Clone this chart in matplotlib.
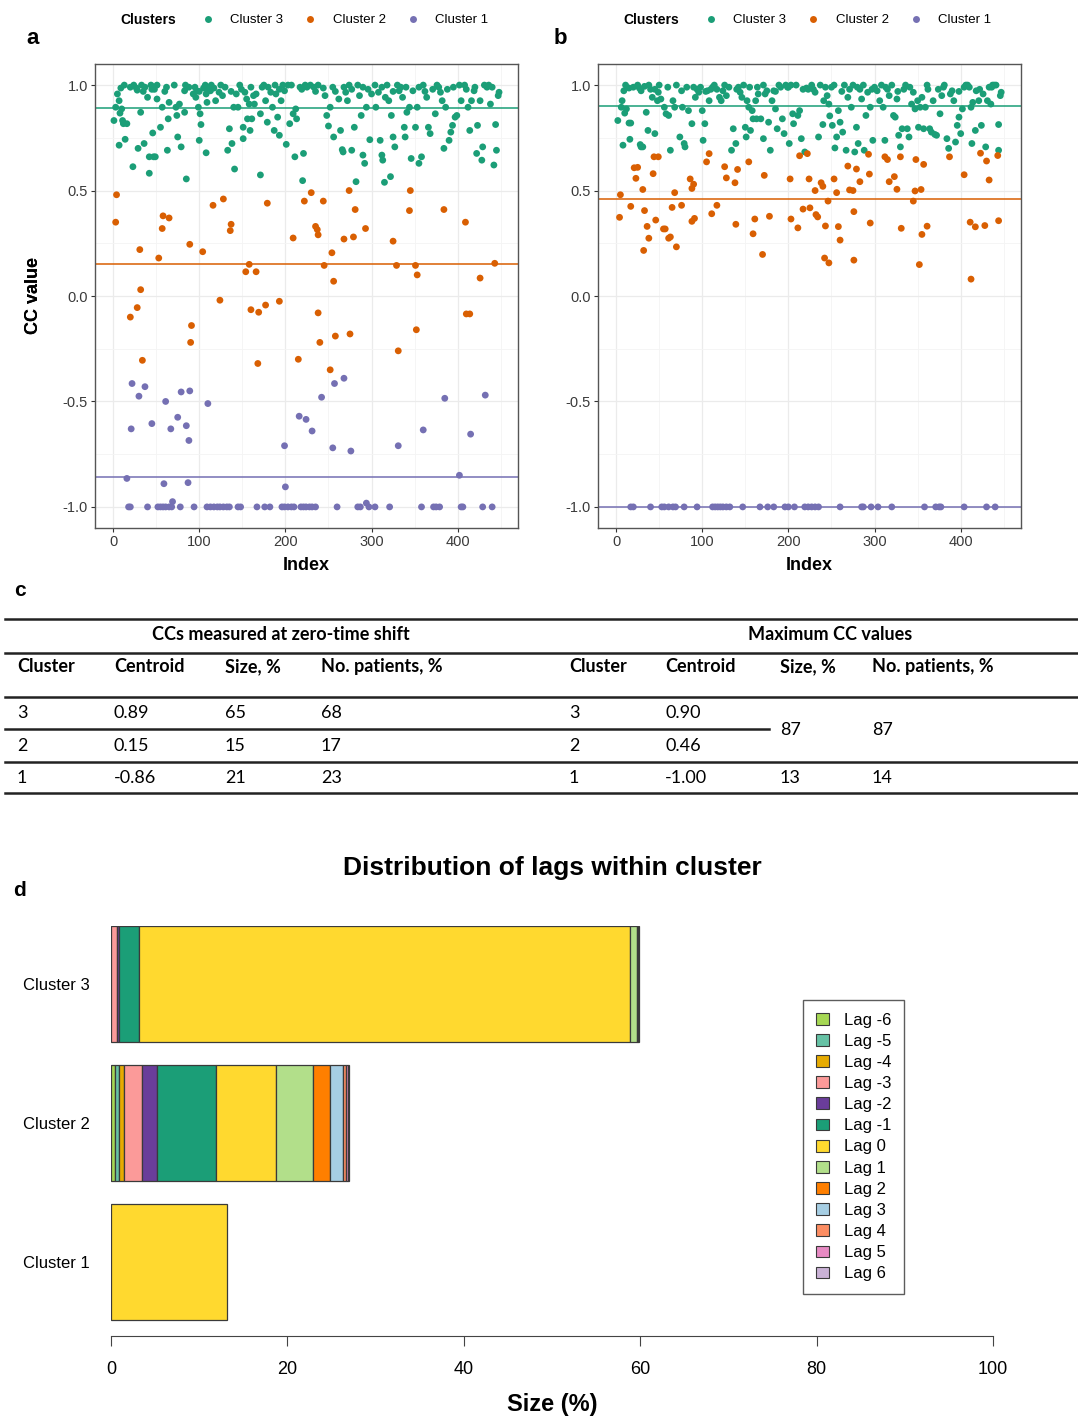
import matplotlib
matplotlib.use("Agg")
import matplotlib.pyplot as plt
import numpy as np
from matplotlib.lines import Line2D
from matplotlib.patches import Patch

plt.rcParams['font.family'] = ['Liberation Sans', 'DejaVu Sans']
plt.rcParams['axes.unicode_minus'] = False

# --- panel a: CCs at zero-time shift ---
a_c3_idx = [1, 7, 11, 12, 14, 7, 5, 9, 13, 3, 8, 10, 12, 16, 23, 24, 27, 28, 29, 33, 32, 35, 36, 37, 40, 42, 42, 44, 47, 49, 48, 51, 51, 46,
            55, 57, 60, 63, 64, 65, 71, 73, 74, 75, 77, 79, 83, 84, 85, 83, 93, 95, 96, 97, 99, 100, 101, 102, 105, 107, 108, 108, 109, 110, 113, 114, 117,
            119, 123, 125, 127, 133, 135, 138, 140, 141, 143, 145, 147, 149, 151, 151, 153, 155, 156, 158, 159, 161, 163, 164, 166, 171, 171, 173,
            175, 177, 179, 183, 185, 187, 188, 189, 191, 193, 195, 197, 199, 201, 203, 205, 207, 209, 211, 212, 213, 217, 219, 220, 221, 223, 229, 233,
            238, 244, 246, 248, 250, 252, 256, 258, 262, 264, 266, 267, 268, 270, 272, 274, 277, 280, 282, 284, 286, 288, 290, 292, 294, 296, 298, 300, 304, 305, 308, 310, 312, 313, 315, 316,
            318, 320, 322, 323, 325, 327, 330, 332, 334, 336, 338, 339, 341, 344, 346, 348, 351, 353, 355, 358, 360, 364, 366, 368, 371, 374, 376, 380, 382, 384, 386,
            388, 390, 392, 394, 397, 399, 402, 404, 408, 412, 414, 416, 419, 422, 423, 426, 428, 429, 431, 434, 436, 438, 442, 444, 445, 447, 448,
            20, 45, 62, 88, 100, 130, 137, 160, 180, 193, 225, 235, 255, 277, 290, 312, 325, 340, 355, 362, 378, 395, 410, 420, 440]
a_c3_cc = [0.832, 0.715, 0.832, 0.821, 0.743, 0.926, 0.958, 0.986, 1.0, 0.895, 0.867, 0.887, 0.817, 0.817, 0.613, 1.0, 0.986, 0.976, 0.70, 1.0, 0.871, 0.97, 0.723, 0.99, 0.942, 0.582, 0.66, 1.0, 0.66, 0.66, 0.98, 1.0, 0.934, 0.773,
           0.80, 0.895, 0.97, 0.691, 0.84, 0.918, 1.0, 0.895, 0.856, 0.754, 0.91, 0.707, 0.973, 1.0, 0.555, 0.871, 0.958, 0.99, 0.942, 0.973, 0.895, 0.738, 0.864, 0.813, 0.986, 1.0, 0.958, 0.679, 0.918, 0.98, 0.973, 1.0, 0.986,
           0.926, 0.966, 1.0, 0.95, 0.691, 0.793, 0.723, 0.895, 0.602, 0.958, 0.895, 1.0, 0.98, 0.80, 0.746, 0.966, 0.934, 0.84, 0.91, 0.785, 0.84, 0.95, 0.91, 0.958, 0.574, 0.864, 0.99,
           1.0, 0.926, 0.824, 0.966, 0.895, 0.785, 1.0, 0.958, 0.848, 0.762, 0.926, 1.0, 0.973, 0.719, 1.0, 0.817, 1.0, 0.864, 0.66, 0.887, 0.84, 0.99, 0.98, 0.547, 0.676, 1.0, 1.0, 0.99,
           1.0, 0.986, 0.95, 0.856, 0.806, 0.895, 0.754, 0.97, 0.934, 0.785, 0.694, 0.683, 0.99, 0.966, 0.926, 1.0, 0.691, 0.80, 0.542, 1.0, 0.95, 0.856, 0.668, 0.629, 0.895, 0.98, 0.741, 0.958, 1.0, 0.895, 0.966, 0.738, 0.668, 0.644, 0.539, 0.942,
           1.0, 0.926, 0.566, 0.856, 0.754, 0.707, 1.0, 0.973, 0.99, 0.942, 0.80, 0.754, 0.871, 0.895, 0.652, 0.973, 0.80, 0.895, 0.629, 0.66, 1.0, 0.942, 0.80, 0.77, 0.98, 0.864, 1.0, 0.966, 0.926, 0.70, 0.895,
           0.98, 0.738, 0.777, 0.809, 0.848, 0.856, 1.0, 0.926, 1.0, 0.895, 0.785, 0.926, 0.973, 0.676, 0.809, 0.926, 0.644, 0.707, 1.0, 0.99, 1.0, 0.91, 0.621, 0.813, 0.691, 0.95, 0.966,
           0.99, 0.98, 0.99, 0.99, 0.97, 0.99, 0.97, 0.99, 0.99, 0.98, 0.99, 0.97, 0.99, 0.98, 0.99, 0.99, 0.97, 0.99, 0.99, 0.97, 0.99, 0.99, 0.98, 0.99, 0.99]

a_c2_idx = [4, 3, 31, 53, 32, 57, 58, 65, 89, 104, 116, 128, 137, 136, 179, 158, 154, 166, 209, 222, 230, 244, 235, 237, 238, 245, 254, 256, 268, 279,
            274, 281, 293, 325, 329, 345, 344, 351, 353, 384, 409, 426, 443,
            20, 28, 34, 91, 90, 124, 160, 169, 177, 168, 193, 215, 238, 240, 252, 258, 275, 331, 352, 410, 414]
a_c2_cc = [0.48, 0.35, 0.22, 0.18, 0.03, 0.32, 0.38, 0.37, 0.245, 0.21, 0.43, 0.46, 0.34, 0.31, 0.44, 0.15, 0.115, 0.115, 0.275, 0.45, 0.49, 0.45, 0.33, 0.315, 0.29, 0.145, 0.205, 0.07, 0.27, 0.28,
           0.5, 0.41, 0.32, 0.26, 0.145, 0.5, 0.405, 0.145, 0.1, 0.41, 0.35, 0.085, 0.155,
           -0.10, -0.055, -0.305, -0.14, -0.22, -0.02, -0.065, -0.077, -0.043, -0.32, -0.025, -0.30, -0.08, -0.22, -0.35, -0.19, -0.18, -0.26, -0.16, -0.085, -0.085]

a_c1_idx = [22, 21, 30, 37, 45, 16, 59, 61, 67, 69, 75, 79, 85, 89, 88, 87, 110, 199, 200, 216, 224, 231, 242, 257, 268, 255, 276, 331, 360, 385, 402, 415, 432, 294]
a_c1_cc = [-0.415, -0.63, -0.475, -0.43, -0.605, -0.865, -0.89, -0.5, -0.63, -0.975, -0.575, -0.455, -0.615, -0.45, -0.685, -0.885, -0.51, -0.71, -0.905, -0.57,
           -0.585, -0.64, -0.48, -0.415, -0.39, -0.72, -0.735, -0.71, -0.635, -0.485, -0.85, -0.655, -0.47, -0.982]
# cluster 1 points sitting exactly on -1.0
a_c1_floor_idx = [18, 20, 40, 52, 55, 58, 61, 65, 68, 78, 94, 109, 113, 117, 121, 124, 128, 132, 135, 145, 148, 167, 176, 182, 196, 199, 203, 207, 210, 218,
                  221, 224, 228, 231, 235, 260, 284, 287, 297, 304, 321, 358, 372, 375, 379, 404, 406, 429, 440]
a_centroids = {3: 0.89, 2: 0.15, 1: -0.86}

# --- panel b: maximum CC values ---
b_c3_idx = [2, 8, 7, 9, 11, 6, 10, 12, 15, 17, 15, 16, 25, 27, 29, 29, 28, 31, 33, 35, 37, 38, 40, 42, 45, 48, 49, 50, 52, 56, 58, 61, 63, 66, 68, 70, 74, 76, 77, 79, 80, 82, 84, 88,
            92, 94, 96, 98, 100, 101, 103, 106, 108, 110, 112, 114, 117, 120, 122, 124, 126, 128,
            134, 136, 139, 142, 144, 146, 148, 150, 151, 152, 154, 155, 156, 158, 159, 162, 163, 165, 168, 171,
            171, 173, 175, 177, 179, 181, 183, 185, 187, 189, 191, 193, 195, 197, 199, 201, 203, 205, 206, 209, 211, 213, 215, 217, 219, 221, 223,
            227, 231, 235, 237, 240, 241, 243, 245, 247, 248, 251, 253, 254, 256, 258, 260, 263, 265, 267, 269, 271, 273, 275, 277, 279, 281, 283, 285, 287, 288, 290, 292,
            295, 298, 300, 303, 306, 308, 310, 312, 315, 317, 320, 322, 324, 326, 328, 330, 332, 334, 336, 338, 340, 343, 345, 347, 350, 351, 353, 355, 357, 359,
            361, 364, 366, 368, 370, 372, 374, 376, 378, 381, 384, 386, 388, 390, 392, 394, 396, 398, 400, 402, 404, 406, 408, 412, 413, 414, 417, 418, 421, 424,
            426, 429, 431, 433, 435, 437, 439, 441, 444, 444, 446, 447,
            20, 45, 60, 90, 104, 131, 140, 164, 185, 200, 229, 250, 262, 280, 297, 313, 327, 341, 362, 380, 398, 410, 422, 436]
b_c3_cc = [0.832, 0.715, 0.926, 0.973, 1.0, 0.895, 0.867, 0.887, 0.82, 0.82, 0.986, 0.743, 1.0, 0.986, 0.973, 0.707, 0.718, 0.707, 0.994, 0.871, 0.785, 1.0, 0.98, 0.942, 0.77, 0.926, 0.966, 1.0, 0.934, 0.895,
           0.864, 0.856, 0.691, 0.926, 0.895, 1.0, 0.754, 0.973, 0.895, 0.723, 0.707, 0.99, 0.879, 0.817,
           0.942, 0.98, 0.966, 0.99, 0.879, 0.738, 0.817, 0.973, 0.926, 0.98, 0.99, 1.0, 0.98, 0.942, 0.926, 0.973, 1.0, 0.95,
           0.691, 0.793, 0.723, 0.99, 0.966, 0.942, 1.0, 0.80, 0.754, 0.926, 0.895, 0.99, 0.785, 0.879, 0.84, 0.926, 0.84, 0.958, 0.84, 0.746,
           1.0, 0.958, 0.973, 0.824, 0.691, 0.926, 0.973, 0.887, 0.793, 1.0, 0.99, 0.84, 0.77, 1.0, 0.99, 0.723, 1.0, 0.864, 0.817, 1.0, 0.856, 0.879, 0.746, 0.98, 0.683, 0.986, 0.98,
           1.0, 0.966, 0.754, 1.0, 0.813, 0.926, 0.99, 0.95, 0.91, 0.854, 0.809, 1.0, 0.702, 0.754, 0.879, 0.824, 0.777, 1.0, 0.691, 0.942, 0.98, 0.895, 1.0, 0.683, 0.80, 0.723, 0.98, 0.934, 1.0, 0.691, 0.856, 0.966,
           0.895, 0.738, 0.99, 0.973, 0.926, 1.0, 0.895, 0.738, 0.98, 0.95, 1.0, 0.856, 0.848, 0.934, 0.762, 0.707, 0.793, 0.98, 1.0, 0.793, 0.754, 0.91, 0.966, 0.887, 0.926, 0.80, 0.895, 0.942, 0.793, 0.895,
           1.0, 0.793, 0.777, 0.926, 0.766, 0.762, 0.98, 0.864, 0.95, 1.0, 0.746, 0.70, 0.958, 0.973, 0.926, 0.73, 0.809, 0.848, 0.77, 0.887, 0.99, 1.0, 1.0, 0.895, 0.723, 0.918, 0.785, 0.973, 0.926, 0.809,
           0.958, 0.707, 0.926, 0.99, 0.91, 1.0, 1.0, 1.0, 0.813, 0.691, 0.95, 0.966,
           0.99, 0.98, 0.99, 0.99, 0.97, 0.99, 0.98, 0.99, 0.97, 0.99, 0.98, 0.99, 0.97, 0.99, 0.98, 0.99, 0.97, 0.99, 0.98, 0.99, 0.97, 0.99, 0.98, 0.99]

b_c2_idx = [5, 4, 17, 21, 25, 23, 31, 33, 32, 36, 38, 43, 46, 44, 49, 55, 57, 61, 63, 70, 65, 68, 76, 86, 88, 90, 88, 91, 105, 108,
            111, 117, 126, 128, 138, 139, 141, 154, 159, 161, 170, 172, 178, 202, 203, 211, 213, 222, 217, 225, 224, 232, 234, 231, 238, 240, 243, 242, 247, 246,
            253, 256, 258, 260, 269, 271, 275, 276, 276, 279, 283, 293, 294, 295, 312, 315, 317, 323, 326, 330, 331, 345, 348, 347, 354, 357, 355, 361, 352, 387,
            404, 411, 417, 412, 423, 428, 430, 433, 443, 444]
b_c2_cc = [0.48, 0.373, 0.425, 0.608, 0.61, 0.558, 0.505, 0.405, 0.216, 0.33, 0.274, 0.58, 0.36, 0.66, 0.66, 0.318, 0.318, 0.274, 0.28, 0.233, 0.42, 0.49, 0.43, 0.555, 0.51, 0.53, 0.354, 0.368, 0.636, 0.675,
           0.39, 0.43, 0.613, 0.56, 0.537, 0.34, 0.6, 0.636, 0.295, 0.365, 0.197, 0.572, 0.378, 0.555, 0.365, 0.323, 0.665, 0.675, 0.412, 0.418, 0.555, 0.386, 0.375, 0.5, 0.537, 0.52, 0.332, 0.18, 0.157, 0.45,
           0.555, 0.49, 0.329, 0.265, 0.616, 0.503, 0.5, 0.4, 0.17, 0.602, 0.542, 0.672, 0.578, 0.346, 0.66, 0.647, 0.542, 0.566, 0.506, 0.66, 0.321, 0.45, 0.647, 0.498, 0.505, 0.624, 0.292, 0.331, 0.149, 0.66,
           0.575, 0.35, 0.328, 0.08, 0.677, 0.334, 0.64, 0.55, 0.666, 0.357]

b_c1_floor_idx = [17, 20, 40, 53, 56, 61, 66, 69, 79, 94, 112, 115, 118, 121, 124, 128, 132, 147, 167, 176, 183, 196, 200, 207, 219, 223, 227, 231, 235, 260,
                  285, 287, 296, 304, 320, 358, 371, 375, 377, 404, 430, 440]
b_centroids = {3: 0.90, 2: 0.46, 1: -1.00}

CLUSTER_COLORS = {3: '#1B9E77', 2: '#D95F02', 1: '#7570B3'}

# --- table c ---
table_headers = ['Cluster', 'Centroid', 'Size, %', 'No. patients, %']
zero_cluster = ['3', '2', '1']
zero_centroid = ['0.89', '0.15', '-0.86']
zero_size = ['65', '15', '21']
zero_patients = ['68', '17', '23']
max_cluster = ['3', '2', '1']
max_centroid = ['0.90', '0.46', '-1.00']
max_size = ['87', '13']        # first value spans clusters 3 and 2
max_patients = ['87', '14']

# --- panel d: lag distribution (% of all CCs) ---
lag_names = ['Lag -6', 'Lag -5', 'Lag -4', 'Lag -3', 'Lag -2', 'Lag -1', 'Lag 0',
             'Lag 1', 'Lag 2', 'Lag 3', 'Lag 4', 'Lag 5', 'Lag 6']
lag_colors = ['#A6D854', '#66C2A5', '#E6AB02', '#FB9A99', '#6A3D9A', '#1B9E77', '#FFD92F',
              '#B2DF8A', '#FF7F00', '#A6CEE3', '#FC8D62', '#E78AC3', '#CAB2D6']
bar_clusters = ['Cluster 3', 'Cluster 2', 'Cluster 1']
cluster3_lags = [0, 0, 0, 0.7, 0.2, 2.3, 55.6, 0.8, 0.1, 0.2, 0, 0, 0]
cluster2_lags = [0.45, 0.45, 0.6, 2.05, 1.7, 6.6, 6.9, 4.15, 1.9, 1.45, 0.45, 0.15, 0.1]
cluster1_lags = [0, 0, 0, 0, 0, 0, 13.2, 0, 0, 0, 0, 0, 0]

W, H = 1078, 1420
fig = plt.figure(figsize=(W / 100, H / 100), dpi=100)


def fx(px):
    return px / W


def fy(py):
    return 1 - py / H


def scatter_panel(left_px, c3, c2, c1, floor_idx, centroids, letter, letter_x, legend_x):
    ax = fig.add_axes([fx(left_px), fy(528), 423 / W, (528 - 64) / H])
    series = {3: c3, 2: c2, 1: c1}
    for k in [3, 2, 1]:
        x, y = series[k]
        ax.scatter(x, y, s=24, color=CLUSTER_COLORS[k], edgecolors='none', zorder=3)
    ax.scatter(floor_idx, [-1.0] * len(floor_idx), s=24, color=CLUSTER_COLORS[1], edgecolors='none', zorder=3)
    for k in [3, 2, 1]:
        ax.axhline(centroids[k], color=CLUSTER_COLORS[k], lw=1.3, alpha=0.85, zorder=2)
    ax.set_xlim(-21, 470)
    ax.set_ylim(-1.1, 1.1)
    ax.set_xticks([0, 100, 200, 300, 400])
    ax.set_xticks([50, 150, 250, 350, 450], minor=True)
    ax.set_yticks([-1.0, -0.5, 0.0, 0.5, 1.0])
    ax.set_yticklabels(['-1.0', '-0.5', '0.0', '0.5', '1.0'])
    ax.set_yticks([-0.75, -0.25, 0.25, 0.75], minor=True)
    ax.grid(True, which='major', color='#EBEBEB', lw=0.9, zorder=0)
    ax.grid(True, which='minor', color='#F4F4F4', lw=0.6, zorder=0)
    ax.set_axisbelow(True)
    ax.tick_params(which='major', length=3, width=0.8, color='#333333', labelsize=10.5,
                   labelcolor='#3A3A3A', pad=2)
    ax.tick_params(which='minor', length=0)
    for s in ax.spines.values():
        s.set_color('#555555')
        s.set_linewidth(1.0)
    ax.set_xlabel('Index', fontsize=13, fontweight='bold')
    ax.set_ylabel('CC value', fontsize=13, fontweight='bold')
    ax.xaxis.set_label_coords(0.5, (528 - 557) / 464)
    ax.yaxis.set_label_coords((42 - left_px) / 423, 0.5)

    fig.text(fx(letter_x), fy(38), letter, fontsize=16, fontweight='bold', ha='center', va='center')
    fig.text(fx(legend_x), fy(20), 'Clusters', fontsize=10, fontweight='bold', ha='left', va='center')
    handles = [Line2D([], [], ls='', marker='o', markersize=5, markeredgewidth=0, color=CLUSTER_COLORS[k])
               for k in [3, 2, 1]]
    fig.legend(handles, ['Cluster 3', 'Cluster 2', 'Cluster 1'], ncol=3, loc='center left',
               bbox_to_anchor=(fx(legend_x + 81), fy(20)), frameon=False, fontsize=9.5,
               handlelength=1.0, handletextpad=1.2, columnspacing=1.55, borderpad=0, borderaxespad=0)
    return ax


scatter_panel(95, (a_c3_idx, a_c3_cc), (a_c2_idx, a_c2_cc), (a_c1_idx, a_c1_cc), a_c1_floor_idx,
              a_centroids, 'a', 33, 120)
scatter_panel(598, (b_c3_idx, b_c3_cc), (b_c2_idx, b_c2_cc), ([], []), b_c1_floor_idx,
              b_centroids, 'b', 560, 623)

# --- table c ---
tfont = ['Lato', 'DejaVu Sans']
fig.text(fx(20), fy(591), 'c', fontsize=15, fontweight='bold', ha='center', va='center')


def hline(y, x0, x1, lw=1.8):
    fig.add_artist(Line2D([fx(x0), fx(x1)], [fy(y), fy(y)], transform=fig.transFigure,
                          color='#222222', lw=lw))


hline(619, 5, 1078)
hline(653, 5, 1078)
hline(697, 5, 1078)
hline(729, 5, 769)
hline(762, 5, 1078)
hline(793, 5, 1078)

fig.text(fx(281), fy(635), 'CCs measured at zero-time shift', fontsize=13, fontweight='bold',
         family=tfont, ha='center', va='center')
fig.text(fx(830), fy(635), 'Maximum CC values', fontsize=13, fontweight='bold',
         family=tfont, ha='center', va='center')

cols_left = [17, 114, 225, 321]
cols_right = [569, 665, 780, 872]
row_y = [713, 746, 778]
for cx_l, cx_r, h in zip(cols_left, cols_right, table_headers):
    fig.text(fx(cx_l), fy(667), h, fontsize=13, fontweight='bold', family=tfont, ha='left', va='center')
    fig.text(fx(cx_r), fy(667), h, fontsize=13, fontweight='bold', family=tfont, ha='left', va='center')

for col, vals in zip(cols_left, [zero_cluster, zero_centroid, zero_size, zero_patients]):
    for ry, v in zip(row_y, vals):
        fig.text(fx(col), fy(ry), v, fontsize=13, family=tfont, ha='left', va='center')
for col, vals in zip(cols_right[:2], [max_cluster, max_centroid]):
    for ry, v in zip(row_y, vals):
        fig.text(fx(col), fy(ry), v, fontsize=13, family=tfont, ha='left', va='center')
for col, vals in zip(cols_right[2:], [max_size, max_patients]):
    fig.text(fx(col), fy(730), vals[0], fontsize=13, family=tfont, ha='left', va='center')
    fig.text(fx(col), fy(row_y[2]), vals[1], fontsize=13, family=tfont, ha='left', va='center')

# --- panel d ---
fig.text(fx(20), fy(890), 'd', fontsize=15, fontweight='bold', ha='center', va='center')
fig.text(fx(552), fy(868), 'Distribution of lags within cluster', fontsize=19, fontweight='bold',
         ha='center', va='center')

axd = fig.add_axes([fx(111), fy(1336), (993 - 111) / W, (1336 - 926) / H])
ypos = np.array([2, 1, 0])
lefts = np.zeros(3)
for j, lag in enumerate(lag_names):
    widths = np.array([cluster3_lags[j], cluster2_lags[j], cluster1_lags[j]])
    keep = widths > 0
    axd.barh(ypos[keep], widths[keep], left=lefts[keep], height=0.835, color=lag_colors[j],
             edgecolor='#3A3A3A', linewidth=0.9)
    lefts += widths
axd.set_xlim(0, 100)
axd.set_ylim(-0.532, 2.417)
for side in ['left', 'top', 'right']:
    axd.spines[side].set_visible(False)
axd.spines['bottom'].set_bounds(0, 100)
axd.spines['bottom'].set_color('#444444')
axd.set_xticks([0, 20, 40, 60, 80, 100])
axd.tick_params(axis='x', length=7, color='#444444', labelsize=13, pad=11)
axd.set_yticks(ypos)
axd.set_yticklabels(bar_clusters, fontsize=12)
axd.tick_params(axis='y', length=0, pad=15)
axd.set_xlabel('Size (%)', fontsize=17, fontweight='bold')
axd.xaxis.set_label_coords(0.5, (1336 - 1393) / 410)

lag_handles = [Patch(facecolor=c, edgecolor='#3A3A3A', linewidth=0.8) for c in lag_colors]
leg = fig.legend(lag_handles, lag_names, loc='upper left', bbox_to_anchor=(fx(803), fy(1000)),
                 fontsize=12, frameon=True, fancybox=False, edgecolor='#333333',
                 handlelength=0.8, handleheight=0.7, handletextpad=0.9, labelspacing=0.37,
                 borderpad=0.75, borderaxespad=0)
leg.get_frame().set_linewidth(1.0)

fig.savefig('out.png', dpi=100)
